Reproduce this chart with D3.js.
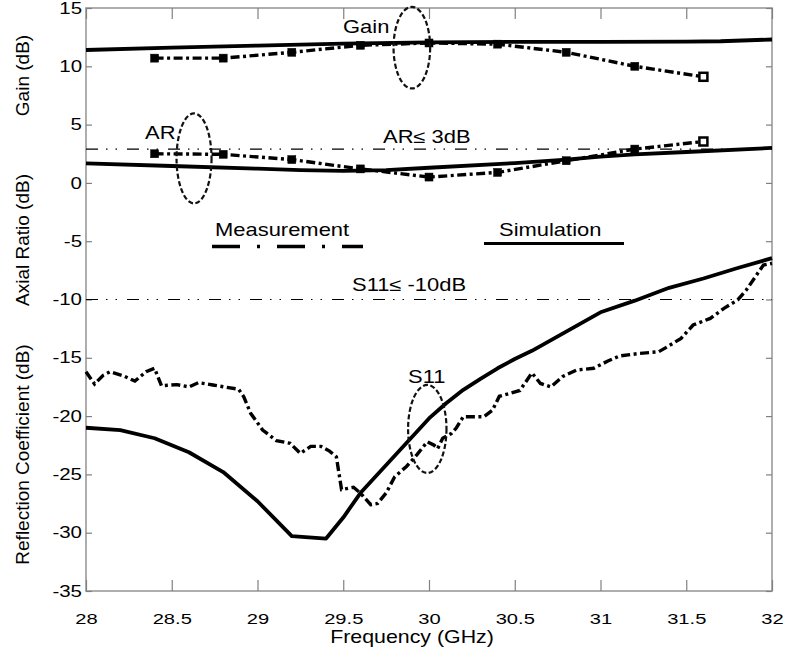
<!DOCTYPE html>
<html>
<head>
<meta charset="utf-8">
<script src="https://cdn.jsdelivr.net/npm/d3@7"></script>
<style>
  html, body { margin: 0; padding: 0; background: #fff; }
  svg { display: block; }
  text { font-family: "Liberation Sans", Arial, sans-serif; fill: #000; }
</style>
</head>
<body>
<svg id="chart" width="786" height="653"></svg>
<script>
// ---------------- data ----------------
const xTicks = [28, 28.5, 29, 29.5, 30, 30.5, 31, 31.5, 32];
const xTickLabels = ["28", "28.5", "29", "29.5", "30", "30.5", "31", "31.5", "32"];
const yTicks = [-35, -30, -25, -20, -15, -10, -5, 0, 5, 10, 15];
const yTickLabels = ["-35", "-30", "-25", "-20", "-15", "-10", "-5", "0", "5", "10", "15"];

// Gain (dB)
const gainSimFreq = [28, 28.5, 29, 29.5, 30, 30.5, 31, 31.5, 31.7, 32];
const gainSimVal  = [11.4, 11.6, 11.78, 11.95, 12.05, 12.1, 12.1, 12.12, 12.15, 12.3];
const measFreq    = [28.4, 28.8, 29.2, 29.6, 30.0, 30.4, 30.8, 31.2, 31.6];
const gainMeasVal = [10.7, 10.7, 11.2, 11.8, 12.0, 11.9, 11.2, 10.0, 9.1];

// Axial ratio (dB)
const arSimFreq = [28, 28.5, 29, 29.25, 29.5, 29.75, 30, 30.5, 30.8, 31, 31.2, 31.5, 32];
const arSimVal  = [1.68, 1.45, 1.22, 1.1, 1.03, 1.1, 1.3, 1.7, 2.0, 2.25, 2.45, 2.65, 3.0];
const arMeasVal = [2.5, 2.45, 2.0, 1.2, 0.5, 0.9, 1.9, 2.9, 3.55];

// Reflection coefficient S11 (dB)
const s11SimFreq = [28, 28.2, 28.4, 28.6, 28.8, 29, 29.2, 29.4, 29.5, 29.6, 29.8, 30, 30.1, 30.2, 30.3, 30.4, 30.5, 30.6, 30.8, 31, 31.2, 31.4, 31.6, 31.8, 32];
const s11SimVal  = [-21.0, -21.2, -21.9, -23.1, -24.8, -27.3, -30.3, -30.5, -28.7, -26.6, -23.4, -20.2, -18.9, -17.75, -16.8, -15.9, -15.1, -14.4, -12.75, -11.1, -10.1, -9.0, -8.2, -7.3, -6.45];
const s11MeasFreq = [28.0, 28.05, 28.1, 28.14, 28.22, 28.285, 28.35, 28.4, 28.44, 28.53, 28.6, 28.655, 28.74, 28.82, 28.89, 28.92, 28.96, 29.03, 29.11, 29.19, 29.25, 29.31, 29.37, 29.42, 29.46, 29.49, 29.56, 29.6, 29.66, 29.7, 29.75, 29.8, 29.87, 29.93, 29.99, 30.03, 30.05, 30.08, 30.13, 30.16, 30.2, 30.32, 30.37, 30.41, 30.53, 30.6, 30.65, 30.71, 30.78, 30.86, 30.96, 31.04, 31.11, 31.23, 31.34, 31.39, 31.47, 31.54, 31.64, 31.72, 31.8, 31.85, 31.91, 31.95, 32.0];
const s11MeasVal  = [-16.2, -17.25, -16.5, -16.2, -16.56, -17.0, -16.2, -15.9, -17.4, -17.3, -17.5, -17.13, -17.33, -17.53, -17.7, -18.34, -19.76, -21.19, -22.1, -22.33, -23.2, -22.6, -22.6, -23.0, -23.5, -26.3, -26.1, -26.6, -27.6, -27.5, -26.6, -25.2, -24.3, -23.3, -22.2, -22.5, -22.8, -21.9, -21.5, -21.0, -20.05, -20.05, -19.5, -18.3, -17.8, -16.3, -17.2, -17.5, -16.6, -16.05, -15.9, -15.3, -14.85, -14.62, -14.48, -14.05, -13.33, -12.19, -11.62, -10.76, -10.04, -9.19, -7.9, -7.04, -6.9];

// thresholds
const arLimit = 2.9;
const s11Limit = -10;

// annotation ellipses (centres in data units)
const ellipseFreq = [29.9, 28.63, 29.99];
const ellipseVal  = [11.6, 2.1, -21.1];

// ---------------- drawing ----------------
const mLeft = 86, mRight = 772, mTop = 8, mBottom = 591;
const svg = d3.select("#chart");

const x = d3.scaleLinear().domain([28, 32]).range([mLeft, mRight]);
const y = d3.scaleLinear().domain([-35, 15]).range([mBottom, mTop]);

const SX = 1.22; // horizontal stretch of text in the reference

function hText(px, py, str, size, anchor) {
  return svg.append("text")
    .attr("transform", `translate(${px},${py}) scale(${SX},1)`)
    .attr("text-anchor", anchor || "start")
    .style("font-size", size + "px")
    .text(str);
}

// frame
svg.append("rect")
  .attr("x", mLeft).attr("y", mTop)
  .attr("width", mRight - mLeft).attr("height", mBottom - mTop)
  .attr("fill", "none").attr("stroke", "#9a9a9a").attr("stroke-width", 1.6);

// axes
const axB = svg.append("g").attr("transform", `translate(0,${mBottom})`)
  .call(d3.axisBottom(x).tickValues(xTicks).tickFormat((d, i) => xTickLabels[i])
    .tickSizeInner(-11).tickSizeOuter(0).tickPadding(22));
const axT = svg.append("g").attr("transform", `translate(0,${mTop})`)
  .call(d3.axisTop(x).tickValues(xTicks).tickFormat("")
    .tickSizeInner(-11).tickSizeOuter(0));
const axL = svg.append("g").attr("transform", `translate(${mLeft},0)`)
  .call(d3.axisLeft(y).tickValues(yTicks).tickFormat((d, i) => yTickLabels[i])
    .tickSizeInner(-6).tickSizeOuter(0).tickPadding(4));
const axR = svg.append("g").attr("transform", `translate(${mRight},0)`)
  .call(d3.axisRight(y).tickValues(yTicks).tickFormat("")
    .tickSizeInner(-6).tickSizeOuter(0));

[axB, axT, axL, axR].forEach(a => {
  a.select(".domain").remove();
  a.selectAll(".tick line").attr("stroke", "#808080").attr("stroke-width", 1.2);
  a.selectAll("text").style("font-family", '"Liberation Sans", Arial, sans-serif')
    .style("font-size", "16px").attr("fill", "#000");
});
axB.selectAll(".tick text").style("font-size", "15.5px").attr("transform", `scale(1.3,1)`);
axL.selectAll(".tick text").attr("x", -4 / 1.28).attr("transform", `scale(1.28,1)`);

// threshold lines (dash-dot-dot)
[arLimit, s11Limit].forEach(v => {
  svg.append("line")
    .attr("x1", mLeft).attr("x2", mRight)
    .attr("y1", y(v)).attr("y2", y(v))
    .attr("stroke", "#000").attr("stroke-width", 1.1)
    .attr("stroke-dasharray", "12,8,1.5,8,1.5,10");
});

const mkLine = d3.line().x(d => x(d[0])).y(d => y(d[1]));
const zip = (a, b) => a.map((v, i) => [v, b[i]]);

const SOLID_W = 3.8, MEAS_W = 3.4, MEAS_DASH = "9,3.5,3,3.5";

function simPath(fx, vy) {
  svg.append("path").datum(zip(fx, vy)).attr("d", mkLine)
    .attr("fill", "none").attr("stroke", "#000").attr("stroke-width", SOLID_W)
    .attr("stroke-linejoin", "round");
}
function measPath(fx, vy) {
  svg.append("path").datum(zip(fx, vy)).attr("d", mkLine)
    .attr("fill", "none").attr("stroke", "#000").attr("stroke-width", MEAS_W)
    .attr("stroke-dasharray", MEAS_DASH);
}
function markers(fx, vy) {
  svg.append("g").selectAll("rect").data(zip(fx, vy)).join("rect")
    .attr("x", d => x(d[0]) - 4).attr("y", d => y(d[1]) - 4)
    .attr("width", 8).attr("height", 8)
    .attr("fill", (d, i) => i === fx.length - 1 ? "#fff" : "#000")
    .attr("stroke", "#000").attr("stroke-width", (d, i) => i === fx.length - 1 ? 2.5 : 0.5);
}

simPath(gainSimFreq, gainSimVal);
measPath(measFreq, gainMeasVal);
markers(measFreq, gainMeasVal);

simPath(arSimFreq, arSimVal);
measPath(measFreq, arMeasVal);
markers(measFreq, arMeasVal);

simPath(s11SimFreq, s11SimVal);
measPath(s11MeasFreq, s11MeasVal);

// ellipses
const ellR = [[18.3, 40.8], [17.5, 45], [19.2, 44]];
ellipseFreq.forEach((f, i) => {
  svg.append("ellipse")
    .attr("cx", x(f)).attr("cy", y(ellipseVal[i]))
    .attr("rx", ellR[i][0]).attr("ry", ellR[i][1])
    .attr("fill", "none").attr("stroke", "#111").attr("stroke-width", 2.2)
    .attr("stroke-dasharray", "5,2.5");
});

// annotations
hText(343, 33, "Gain", 18);
hText(145, 139, "AR", 18);
hText(383, 142.5, "AR\u2264 3dB", 18);
hText(352, 291, "S11\u2264 -10dB", 18);
hText(408, 382.5, "S11", 18);
hText(215, 236, "Measurement", 18);
hText(499, 236, "Simulation", 18);

// legend samples
svg.append("line").attr("x1", 212).attr("x2", 363).attr("y1", 246.5).attr("y2", 246.5)
  .attr("stroke", "#000").attr("stroke-width", 3.5).attr("stroke-dasharray", "28,17,3,17");
svg.append("line").attr("x1", 484).attr("x2", 624).attr("y1", 243.5).attr("y2", 243.5)
  .attr("stroke", "#000").attr("stroke-width", 3.2);

// axis titles
hText(412, 643, "Frequency (GHz)", 17.5, "middle");
function vText(cx, cy, str) {
  svg.append("text")
    .attr("transform", `translate(${cx},${cy}) rotate(-90)`)
    .attr("text-anchor", "middle")
    .style("font-size", "19px")
    .text(str);
}
vText(29, 75.5, "Gain (dB)");
vText(29, 240, "Axial Ratio (dB)");
vText(29, 454.5, "Reflection Coefficient (dB)");
</script>
</body>
</html>
